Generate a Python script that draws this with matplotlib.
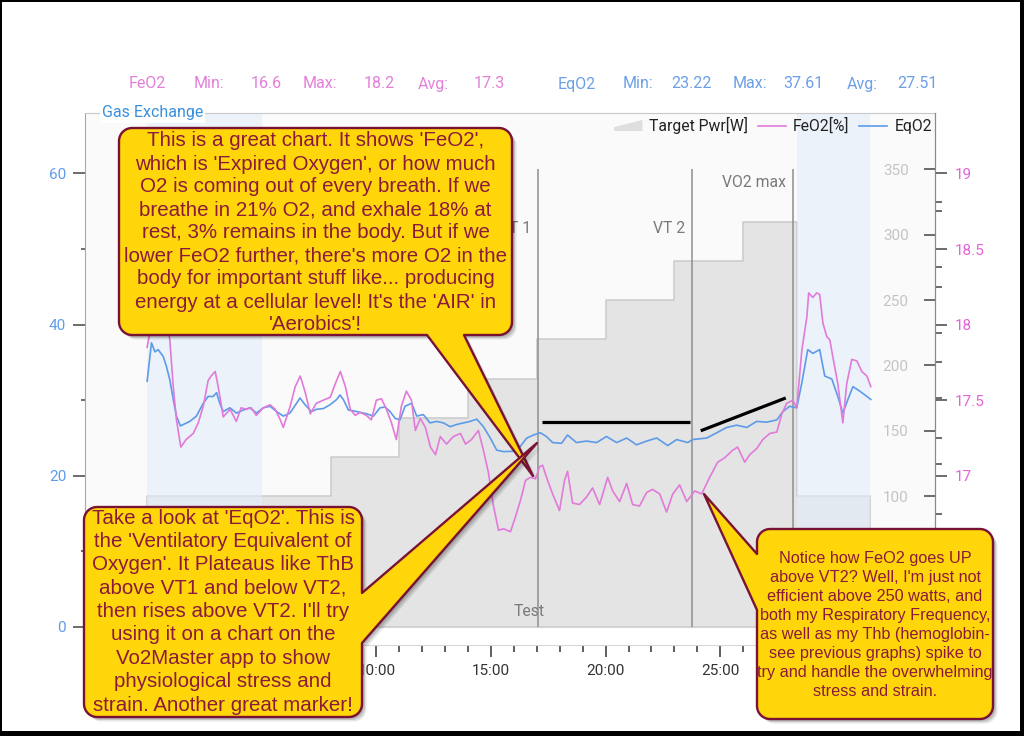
import numpy as np
import matplotlib
matplotlib.use("Agg")
import matplotlib.pyplot as plt
import matplotlib.patches as mpatches
from matplotlib.lines import Line2D
from matplotlib.ticker import MultipleLocator, FuncFormatter
from matplotlib.legend_handler import HandlerPatch

plt.rcParams['font.family'] = ['Roboto', 'DejaVu Sans']

# target power steps (minutes, watts)
pwr_t = [0, 8, 11, 14, 17, 20, 23, 26, 28.35, 31.55]
pwr_w = [100, 130, 160, 190, 220, 250, 280, 310, 100, 100]

# EqO2 (left axis)
eq_t = [0.0, 0.19, 0.34, 0.48, 0.70, 0.84, 0.99, 1.14, 1.28, 1.45, 1.86, 2.15, 2.45, 2.66, 2.88,
        3.03, 3.17, 3.32, 3.61, 3.90, 4.19, 4.48, 4.77, 5.07, 5.36, 5.65, 5.94, 6.23, 6.52, 6.67,
        6.89, 7.17, 7.39, 7.69, 7.98, 8.27, 8.41, 8.56, 8.78, 9.00, 9.29, 9.58, 9.87, 10.16, 10.38,
        10.60, 10.82, 11.03, 11.25, 11.54, 11.76, 12.05, 12.34, 12.63, 12.93, 13.22, 13.51, 13.80,
        14.09, 14.38, 14.67, 14.97, 15.25, 15.55, 15.98, 16.28, 16.56, 16.86, 17.15, 17.42, 17.69,
        18.08, 18.34, 18.73, 19.17, 19.61, 20.04, 20.48, 20.92, 21.35, 21.79, 22.23, 22.71, 23.10,
        23.58, 23.80, 24.41, 24.85, 25.28, 25.72, 26.16, 26.59, 27.03, 27.47, 27.73, 28.03, 28.34,
        28.56, 28.82, 29.04, 29.34, 29.56, 29.87, 30.13, 30.35, 30.57, 30.79, 31.09, 31.40, 31.57]
eq_v = [32.5, 37.6, 36.4, 36.7, 35.8, 34.5, 32.7, 30.1, 27.9, 26.6, 27.2, 27.9, 29.6, 30.5, 30.5,
        31.0, 29.6, 28.5, 29.0, 28.3, 28.7, 29.0, 28.3, 29.0, 29.2, 28.5, 27.9, 28.3, 29.6, 30.3,
        29.4, 28.5, 28.8, 28.9, 29.4, 30.1, 30.7, 30.1, 28.7, 28.6, 28.4, 28.2, 27.9, 29.0, 29.1,
        28.5, 27.6, 27.4, 29.2, 29.6, 27.9, 28.1, 27.0, 27.2, 27.0, 26.5, 26.8, 27.0,
        27.2, 27.5, 26.5, 25.0, 23.4, 23.2, 23.25, 23.9, 25.0, 25.4, 25.7, 25.2, 24.4,
        24.3, 25.4, 24.4, 24.6, 24.4, 25.2, 24.4, 25.0, 24.1, 24.6, 25.0, 24.0, 24.8,
        24.4, 24.8, 25.0, 25.7, 26.4, 26.7, 26.4, 27.2, 27.1, 27.4, 28.5, 29.2, 29.0,
        32.3, 36.7, 36.2, 36.7, 33.2, 32.8, 30.5, 28.3, 30.1, 31.8, 31.2, 30.5, 30.1]

# FeO2 (%)
fe_t = [0.0, 0.25, 0.55, 0.80, 0.99, 1.14, 1.28, 1.47, 1.70, 2.01, 2.23, 2.45, 2.66, 2.79, 2.97,
        3.10, 3.32, 3.62, 3.89, 4.10, 4.32, 4.54, 4.76, 5.07, 5.37, 5.59, 5.81, 5.94, 6.24, 6.46,
        6.68, 6.90, 7.12, 7.38, 7.69, 7.99, 8.21, 8.43, 8.65, 8.86, 9.08, 9.30, 9.56, 9.78, 10.0,
        10.22, 10.44, 10.66, 10.87, 11.09, 11.31, 11.53, 11.70, 11.92, 12.14, 12.36, 12.58, 12.79,
        13.06, 13.36, 13.67, 13.89, 14.15, 14.45, 14.67, 14.89, 15.11, 15.33, 15.55, 15.85, 16.07,
        16.29, 16.51, 16.72, 16.94, 17.12, 17.25, 17.47, 17.69, 17.99, 18.21, 18.34, 18.56, 18.86,
        19.17, 19.43, 19.74, 20.09, 20.31, 20.61, 20.92, 21.18, 21.48, 21.79, 22.05, 22.36, 22.66,
        22.93, 23.23, 23.54, 23.89, 24.19, 24.54, 24.89, 25.20, 25.55, 25.76, 26.07, 26.29, 26.59,
        26.86, 27.16, 27.47, 27.69, 27.90, 28.17, 28.34, 28.56, 28.78, 28.86, 29.04, 29.21, 29.34,
        29.48, 29.65, 29.78, 29.91, 30.13, 30.35, 30.52, 30.74, 30.96, 31.18, 31.40, 31.57]
fe_v = [17.85, 18.05, 18.12, 18.08, 17.90, 17.59, 17.37, 17.19, 17.24, 17.28, 17.35, 17.46, 17.63, 17.66, 17.69,
        17.59, 17.39, 17.44, 17.36, 17.45, 17.44, 17.45, 17.40, 17.45, 17.47, 17.44, 17.37, 17.32, 17.46, 17.59,
        17.66, 17.55, 17.41, 17.48, 17.50, 17.52, 17.61, 17.69, 17.59, 17.44, 17.40, 17.42, 17.40, 17.37, 17.50,
        17.51, 17.44, 17.35, 17.24, 17.46, 17.56, 17.50, 17.30, 17.38, 17.32, 17.19, 17.14, 17.26,
        17.21, 17.26, 17.28, 17.21, 17.24, 17.30, 17.17, 17.02, 16.80, 16.64, 16.65, 16.63, 16.73,
        16.84, 16.97, 16.99, 16.98, 17.06, 17.07, 16.97, 16.88, 16.77, 16.97, 17.03, 16.82, 16.81,
        16.86, 16.92, 16.81, 16.99, 16.90, 16.83, 16.95, 16.81, 16.80, 16.89, 16.91, 16.88, 16.76,
        16.88, 16.94, 16.83, 16.90, 16.88, 16.99, 17.09, 17.12, 17.17, 17.19, 17.09, 17.14, 17.18,
        17.24, 17.28, 17.29, 17.41, 17.48, 17.50, 17.45, 17.83, 18.05, 18.21, 18.18, 18.21, 18.20,
        18.01, 17.92, 17.90, 17.79, 17.61, 17.35, 17.61, 17.77, 17.76, 17.69, 17.66, 17.59]

# threshold markers
marker_t = [17.07, 23.76, 28.17]
marker_lbl = ["VT 1", "VT 2", "VO2 max"]
marker_lbl_w = [305, 305, 340]

# shaded (warm-up / cool-down) phases
bands = [(0, 5), (28.35, 31.55)]

# hand drawn trend lines (minutes, EqO2)
trend1_t, trend1_v = [17.21, 23.67], [27.15, 27.15]
trend2_t, trend2_v = [24.15, 27.86], [25.96, 30.3]

fe_stats = ["FeO2", "Min:", "16.6", "Max:", "18.2", "Avg:", "17.3"]
eq_stats = ["EqO2", "Min:", "23.22", "Max:", "37.61", "Avg:", "27.51"]

c_eq = '#5d9be8'
c_fe = '#e27ada'

fig = plt.figure(figsize=(10.24, 7.36), dpi=100)
W, H = 1024, 736
L, R, T, B = 85, 935, 113, 627
ax = fig.add_axes([L / W, 1 - B / H, (R - L) / W, (B - T) / H])
ax_p = ax.twinx()
ax_f = ax.twinx()
ax_p.set_zorder(0)
ax.set_zorder(1)
ax_f.set_zorder(2)
ax.patch.set_visible(False)
ax_p.patch.set_visible(True)
ax_p.patch.set_facecolor('#fafafa')
ax_f.patch.set_visible(False)

# power axis: labels inside, on the right edge
ax_p.set_ylim(0, 393)
ax_p.yaxis.tick_left()
ax_p.yaxis.set_label_position('left')
ax_p.spines['left'].set_position(('axes', 1.0))
ax_p.spines['left'].set_color('#8a8a8a')
for s in ['right', 'top']:
    ax_p.spines[s].set_visible(False)
ax_p.spines['bottom'].set_color('#d4d4d4')
ax_p.set_yticks(np.arange(0, 351, 50))
ax_p.set_yticks(np.arange(25, 351, 50), minor=True)
ax_p.yaxis.set_major_formatter(FuncFormatter(lambda v, p: "%d" % v if v >= 100 else ""))
ax_p.tick_params(axis='y', which='major', direction='out', length=8, width=1.1,
                 color='#444444', labelcolor='#c4c4c4', labelsize=11, pad=11)
ax_p.tick_params(axis='y', which='minor', direction='in', length=5, width=1.1, color='#444444')

ax_p.fill_between(pwr_t, 0, pwr_w, step='post', facecolor='#e4e4e4',
                  edgecolor='#cbcbcb', lw=1.1, zorder=1)
for a, b in bands:
    ax_p.axvspan(a, b, color='#e2edfb', alpha=0.6, lw=0, zorder=2)
for t, lbl, h in zip(marker_t, marker_lbl, marker_lbl_w):
    ax_p.vlines(t, 0, 350, color='#8e8e8e', lw=1.1, zorder=3)
    ax_p.text(t - 0.3, h, lbl, ha='right', va='center', color='#7a7a7a', fontsize=11.3, zorder=4)
ax_p.text(16.68, 11.5, "Test", ha='center', va='center', color='#7a7a7a', fontsize=11.3, zorder=4)

# left axis (EqO2)
ax.set_xlim(-2.71, 34.37)
ax.set_ylim(0, 68)
ax.plot(eq_t, eq_v, color=c_eq, lw=1.2)
ax.plot(trend1_t, trend1_v, color='black', lw=2.3, solid_capstyle='butt')
ax.plot(trend2_t, trend2_v, color='black', lw=2.3, solid_capstyle='butt')
ax.yaxis.set_major_locator(MultipleLocator(20))
ax.yaxis.set_minor_locator(MultipleLocator(10))
ax.tick_params(axis='y', which='major', length=8.5, width=1.1, color='#444444',
               labelcolor='#5f9ceb', labelsize=11, pad=5)
ax.tick_params(axis='y', which='minor', length=3, width=1.1, color='#444444')
ax.xaxis.set_major_locator(MultipleLocator(5))
ax.xaxis.set_minor_locator(MultipleLocator(1))
# labels that sit under the callouts are left blank
ax.xaxis.set_major_formatter(FuncFormatter(
    lambda v, p: "%d:00" % int(round(v)) if 10 <= v <= 25 else ""))
ax.tick_params(axis='x', which='major', length=8.4, width=1.1, color='#333333',
               labelcolor='#333333', labelsize=11, pad=5)
ax.tick_params(axis='x', which='minor', length=4.8, width=1.1, color='#333333')
ax.spines['bottom'].set_position(('outward', 13))
ax.spines['bottom'].set_color('#d8d8d8')
ax.spines['left'].set_color('#a8a8a8')
ax.spines['top'].set_color('#c8c8c8')
ax.spines['right'].set_visible(False)

# FeO2 axis
ax_f.set_ylim(16, 19.4)
ax_f.plot(fe_t, fe_v, color=c_fe, lw=1.2)
for s in ['left', 'top', 'bottom']:
    ax_f.spines[s].set_visible(False)
ax_f.spines['right'].set_color('#8a8a8a')
ax_f.set_yticks(np.arange(16, 19.01, 0.5))
ax_f.set_yticks(np.arange(16.25, 19.0, 0.5), minor=True)
ax_f.yaxis.set_major_formatter(FuncFormatter(lambda v, p: "%g" % v if v >= 17 else ""))
ax_f.tick_params(axis='y', which='major', direction='out', length=8.5, width=1.1,
                 color='#444444', labelcolor='#e064d6', labelsize=11, pad=5.5)
ax_f.tick_params(axis='y', which='minor', direction='out', length=5, width=1.1, color='#444444')


def wedge(legend, orig_handle, xdescent, ydescent, width, height, fontsize):
    return mpatches.Polygon([[-xdescent, -ydescent], [width - xdescent, -ydescent],
                             [width - xdescent, height - ydescent],
                             [-xdescent, 0.35 * height - ydescent]], closed=True)


handles = [mpatches.Patch(facecolor='#dedede', edgecolor='none'),
           Line2D([], [], color=c_fe, lw=1.2), Line2D([], [], color=c_eq, lw=1.2)]
leg = ax_f.legend(handles, ["Target Pwr[W]", "FeO2[%]", "EqO2"], ncol=3, frameon=False,
                  loc='upper right', bbox_to_anchor=(932 / W, 1 - 117 / H),
                  bbox_transform=fig.transFigure, fontsize=11.3, handlelength=1.8,
                  handletextpad=0.45, columnspacing=0.6, borderpad=0, borderaxespad=0,
                  handler_map={mpatches.Patch: HandlerPatch(patch_func=wedge)})
for txt in leg.get_texts():
    txt.set_color('#222222')

# header
for s, x in zip(fe_stats, [129, 194, 251, 303, 364, 418, 474]):
    fig.text(x / W, 1 - 84 / H, s, ha='left', va='center', color='#e47fd9', fontsize=11.5)
for s, x in zip(eq_stats, [558, 623, 671, 733, 783, 847, 897]):
    fig.text(x / W, 1 - 84 / H, s, ha='left', va='center', color='#6c9fe6', fontsize=11.5)
fig.text(102 / W, 1 - 113 / H, "Gas Exchange", ha='left', va='center', color='#3a8fdc',
         fontsize=11.5, bbox=dict(facecolor='white', edgecolor='none', pad=1.5))

# callouts drawn in pixel space
ov = fig.add_axes([0, 0, 1, 1], zorder=10)
ov.set_xlim(0, W)
ov.set_ylim(H, 0)
ov.axis('off')


def bubble(x0, y0, x1, y1, side, b1, b2, tip, r=13):
    pts = []

    def arc(cx, cy, a0, a1):
        for a in np.radians(np.linspace(a0, a1, 10)):
            pts.append((cx + r * np.cos(a), cy + r * np.sin(a)))

    arc(x0 + r, y0 + r, 180, 270)
    if side == 'top':
        pts.extend([(b1, y0), tip, (b2, y0)])
    arc(x1 - r, y0 + r, 270, 360)
    if side == 'right':
        pts.extend([(x1, b1), tip, (x1, b2)])
    arc(x1 - r, y1 - r, 0, 90)
    if side == 'bottom':
        pts.extend([(b2, y1), tip, (b1, y1)])
    arc(x0 + r, y1 - r, 90, 180)
    if side == 'left':
        pts.extend([(x0, b2), tip, (x0, b1)])
    return np.array(pts)


def callout(box, side, b1, b2, tip, lines, y0, dy, size):
    pts = bubble(*box, side, b1, b2, tip)
    for off, al in [(4.5, 0.10), (3, 0.14), (1.5, 0.14)]:
        ov.add_patch(mpatches.Polygon(pts + off, closed=True, fc='black', ec='none', alpha=al))
    ov.add_patch(mpatches.Polygon(pts, closed=True, fc='#ffd60a', ec='#7a1234', lw=1.7,
                                  joinstyle='round'))
    cx = (box[0] + box[2]) / 2
    for i, ln in enumerate(lines):
        ov.text(cx, y0 + i * dy, ln, ha='center', va='center', color='#8b1a3c',
                fontsize=size, family=['Liberation Sans', 'DejaVu Sans'])


callout((119, 128, 512, 335), 'bottom', 427, 464, (533, 476),
        ["This is a great chart. It shows 'FeO2',",
         "which is 'Expired Oxygen', or how much",
         "O2 is coming out of every breath. If we",
         "breathe in 21% O2, and exhale 18% at",
         "rest, 3% remains in the body. But if we",
         "lower FeO2 further, there's more O2 in the",
         "body for important stuff like... producing",
         "energy at a cellular level! It's the 'AIR' in",
         "'Aerobics'!"], 141, 23, 14.8)

callout((84, 507, 362, 717), 'right', 593, 643, (537, 443),
        ["Take a look at 'EqO2'. This is",
         "the 'Ventilatory Equivalent of",
         "Oxygen'. It Plateaus like ThB",
         "above VT1 and below VT2,",
         "then rises above VT2. I'll try",
         "using it on a chart on the",
         "Vo2Master app to show",
         "physiological stress and",
         "strain. Another great marker!"], 518, 23.4, 14.8)

callout((757, 529, 993, 719), 'left', 554, 610, (704, 494),
        ["Notice how FeO2 goes UP",
         "above VT2? Well, I'm just not",
         "efficient above 250 watts, and",
         "both my Respiratory Frequency,",
         "as well as my Thb (hemoglobin-",
         "see previous graphs) spike to",
         "try and handle the overwhelming",
         "stress and strain."], 558, 19.1, 11.7)

# black picture frame
for rect in [(0, 0, W, 2), (0, 0, 2, H), (1020, 0, 4, H), (0, 731, W, 5)]:
    ov.add_patch(mpatches.Rectangle(rect[:2], rect[2], rect[3], fc='black', ec='none'))

fig.savefig("out.png", dpi=100)
